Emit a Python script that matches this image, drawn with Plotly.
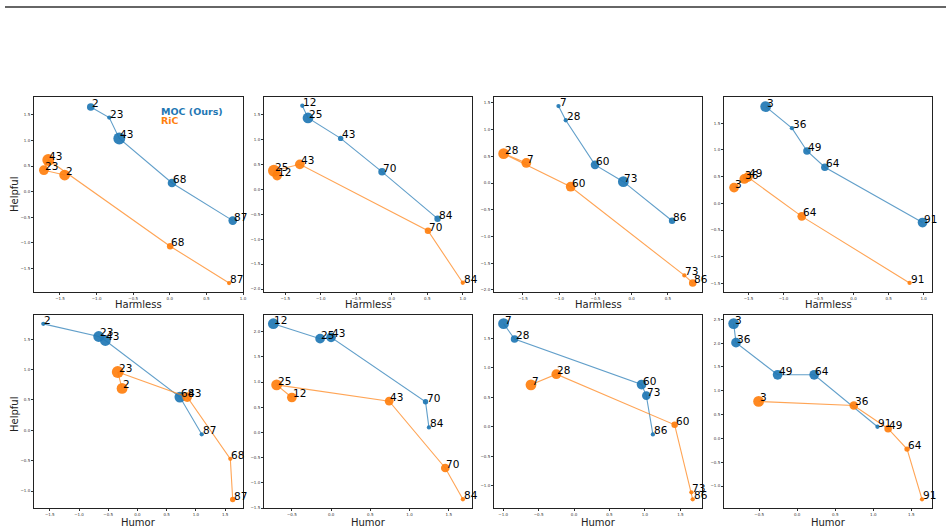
import plotly.graph_objects as go

# ---------------- data ----------------
panel_labels = [
    [2, 23, 43, 68, 87],
    [12, 25, 43, 70, 84],
    [7, 28, 60, 73, 86],
    [3, 36, 49, 64, 91],
    [2, 23, 43, 68, 87],
    [12, 25, 43, 70, 84],
    [7, 28, 60, 73, 86],
    [3, 36, 49, 64, 91],
]

moc_x = [
    [-1.08, -0.827, -0.69, 0.03, 0.86],
    [-1.26, -1.18, -0.72, -0.137, 0.645],
    [-1.01, -0.91, -0.506, -0.115, 0.557],
    [-1.255, -0.88, -0.665, -0.41, 0.985],
    [-1.61, -0.663, -0.549, 0.726, 1.10],
    [-0.736, -0.14, 0.0, 1.204, 1.247],
    [-0.995, -0.84, 0.953, 1.02, 1.113],
    [-0.836, -0.805, -0.258, 0.223, 1.055],
]
moc_y = [
    [1.656, 1.448, 1.04, 0.17, -0.565],
    [1.675, 1.43, 1.02, 0.35, -0.59],
    [1.44, 1.175, 0.34, 0.025, -0.706],
    [1.81, 1.406, 0.98, 0.675, -0.36],
    [1.754, 1.546, 1.48, 0.548, -0.066],
    [2.157, 1.86, 1.887, 0.607, 0.099],
    [1.753, 1.493, 0.718, 0.53, -0.13],
    [2.41, 2.01, 1.335, 1.335, 0.245],
]
moc_w = [
    [7, 4, 11, 8, 8],
    [4, 10, 5, 7, 6],
    [4, 4, 8, 10, 6],
    [10, 4, 7, 7, 9],
    [4, 10, 10, 10, 4],
    [10, 9, 9, 5, 4],
    [10, 7, 9, 8, 4],
    [10, 9, 9, 9, 4],
]

ric_x = [
    [-1.436, -1.72, -1.66, 0.005, 0.81],
    [-1.615, -1.66, -1.295, 0.51, 1.0],
    [-1.454, -1.767, -0.842, 0.727, 0.842],
    [-1.706, -1.56, -1.51, -0.74, 0.80],
    [-0.263, -0.337, 0.851, 1.589, 1.63],
    [-0.50, -0.694, 0.74, 1.455, 1.68],
    [-0.608, -0.25, 1.42, 1.656, 1.675],
    [-0.508, 0.744, 1.195, 1.444, 1.641],
]
ric_y = [
    [0.325, 0.42, 0.62, -1.065, -1.786],
    [0.275, 0.37, 0.50, -0.83, -1.875],
    [0.375, 0.55, -0.069, -1.73, -1.87],
    [0.294, 0.456, 0.49, -0.244, -1.49],
    [0.69, 0.96, 0.548, -0.47, -1.14],
    [0.693, 0.943, 0.62, -0.706, -1.326],
    [0.713, 0.894, 0.034, -1.114, -1.233],
    [0.776, 0.692, 0.203, -0.224, -1.279],
]
ric_w = [
    [10, 9, 11, 6, 4],
    [9, 11, 9, 6, 4],
    [9, 10, 9, 4, 7],
    [9, 9, 9, 8, 4],
    [10, 11, 9, 4, 5],
    [9, 10, 8, 8, 4],
    [10, 9, 6, 4, 4],
    [10, 8, 7, 5, 4],
]

x_titles = ["Harmless"] * 4 + ["Humor"] * 4
y_title = "Helpful"
series_names = ["MOC (Ours)", "RiC"]

# ---------------- layout settings ----------------
x_ranges = [
    [-1.855, 1.0], [-1.80, 1.13], [-1.90, 0.97], [-1.85, 1.12],
    [-1.77, 1.806], [-0.855, 1.796], [-1.13, 1.806], [-0.963, 1.772],
]
y_ranges = [
    [-1.96, 1.85], [-2.06, 1.85], [-2.04, 1.61], [-1.66, 1.99],
    [-1.28, 1.90], [-1.50, 2.33], [-1.38, 1.90], [-1.46, 2.59],
]

W, H = 948, 531
col_px = [(34, 243), (264, 472), (494, 702), (724, 932)]
row_px = [(97, 292), (315, 508)]
BLUE = "#1f77b4"
ORANGE = "#ff7f0e"
FONT = "DejaVu Sans"
SIZE_SCALE = 1.08

fig = go.Figure()
layout_axes = {}
annotations = []

for i in range(8):
    r, c = divmod(i, 4)
    suf = "" if i == 0 else str(i + 1)
    xa, ya = "x" + suf, "y" + suf
    for xs, ys, ws, col in ((moc_x[i], moc_y[i], moc_w[i], BLUE),
                            (ric_x[i], ric_y[i], ric_w[i], ORANGE)):
        fig.add_trace(go.Scatter(x=xs, y=ys, mode="lines",
                                 line=dict(color=col, width=1.1), opacity=0.7,
                                 xaxis=xa, yaxis=ya, showlegend=False,
                                 hoverinfo="skip"))
        fig.add_trace(go.Scatter(x=xs, y=ys, mode="markers",
                                 marker=dict(color=col, size=[w * SIZE_SCALE for w in ws],
                                             opacity=0.92, line=dict(width=0)),
                                 xaxis=xa, yaxis=ya, showlegend=False,
                                 hoverinfo="skip"))
    # point labels (text starts at the point, baseline at the point)
    for xs, ys in ((moc_x[i], moc_y[i]), (ric_x[i], ric_y[i])):
        for lab, xv, yv in zip(panel_labels[i], xs, ys):
            annotations.append(dict(text=str(lab), x=xv, y=yv, xref=xa, yref=ya,
                                    xanchor="left", yanchor="bottom", showarrow=False,
                                    borderpad=0, yshift=-3,
                                    font=dict(family=FONT, size=10.5, color="black")))

    x0, x1 = col_px[c]
    y0, y1 = row_px[r]
    axis_common = dict(
        dtick=0.5, tick0=0, tickformat=".1f", ticks="outside", ticklen=2,
        tickwidth=0.6, tickcolor="#333",
        tickfont=dict(family=FONT, size=4, color="#333"),
        showline=True, mirror=True, linecolor="#222", linewidth=1,
        showgrid=False, zeroline=False, automargin=False,
    )
    layout_axes["xaxis" + suf] = dict(domain=[x0 / W, x1 / W], anchor=ya,
                                      range=x_ranges[i], **axis_common)
    layout_axes["yaxis" + suf] = dict(domain=[1 - y1 / H, 1 - y0 / H], anchor=xa,
                                      range=y_ranges[i], **axis_common)

    # x axis title
    title_y = 304 if r == 0 else 522
    annotations.append(dict(text=x_titles[i], xref="paper", yref="paper",
                            x=(x0 + x1) / 2 / W, y=1 - title_y / H,
                            xanchor="center", yanchor="middle", showarrow=False,
                            font=dict(family=FONT, size=10, color="#222")))
    if c == 0:
        cy = 195 if r == 0 else 415
        annotations.append(dict(text=y_title, xref="paper", yref="paper",
                                x=14 / W, y=1 - cy / H, textangle=-90,
                                xanchor="center", yanchor="middle", showarrow=False,
                                font=dict(family=FONT, size=10, color="#222")))

# legend-like coloured labels in the first panel
annotations.append(dict(text="<b>" + series_names[0] + "</b>", xref="paper", yref="paper",
                        x=159 / W, y=1 - 112 / H, xanchor="left", yanchor="middle",
                        showarrow=False, font=dict(family=FONT, size=9.5, color=BLUE)))
annotations.append(dict(text="<b>" + series_names[1] + "</b>", xref="paper", yref="paper",
                        x=159 / W, y=1 - 121 / H, xanchor="left", yanchor="middle",
                        showarrow=False, font=dict(family=FONT, size=9.5, color=ORANGE)))

fig.update_layout(
    width=W, height=H,
    margin=dict(l=0, r=0, t=0, b=0, pad=0),
    paper_bgcolor="white", plot_bgcolor="white",
    font=dict(family=FONT),
    annotations=annotations,
    shapes=[dict(type="line", xref="paper", yref="paper",
                 x0=5 / W, x1=946 / W, y0=1 - 7 / H, y1=1 - 7 / H,
                 line=dict(color="#333", width=1.3))],
    **layout_axes,
)

fig.write_html("out.html")
